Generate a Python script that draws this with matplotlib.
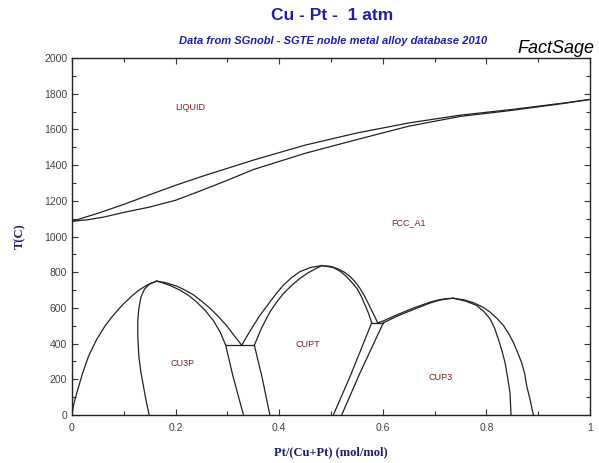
import matplotlib
matplotlib.use("Agg")
import matplotlib.pyplot as plt
from matplotlib.ticker import MultipleLocator

# liquidus / solidus
liq_x = [0, 0.05, 0.1, 0.15, 0.2, 0.25, 0.3, 0.35, 0.45, 0.55, 0.65, 0.75, 0.85, 0.95, 1.0]
liq_T = [1085, 1130, 1180, 1234, 1287, 1336, 1382, 1428, 1512, 1580, 1636, 1680, 1712, 1748, 1768]
sol_x = [0, 0.03, 0.06, 0.1, 0.15, 0.2, 0.25, 0.3, 0.35, 0.45, 0.55, 0.65, 0.75, 0.85, 0.95, 1.0]
sol_T = [1085, 1094, 1108, 1135, 1165, 1203, 1258, 1315, 1375, 1466, 1543, 1618, 1673, 1707, 1746, 1768]

# CU3P ordering dome
cu3p_outer_left_x = [0, 0.002, 0.006, 0.012, 0.02, 0.032, 0.047, 0.064, 0.08, 0.0965, 0.113, 0.129, 0.145, 0.1635]
cu3p_outer_left_T = [0, 40, 90, 150, 230, 330, 420, 500, 560, 614, 660, 699, 728, 750]
cu3p_inner_left_x = [0.1635, 0.15, 0.14, 0.133, 0.129, 0.127, 0.127, 0.129, 0.133, 0.138, 0.143, 0.149]
cu3p_inner_left_T = [750, 735, 705, 660, 595, 530, 440, 330, 240, 160, 80, 0]
cu3p_inner_right_x = [0.1635, 0.175, 0.19, 0.2085, 0.225, 0.2407, 0.257, 0.2728, 0.286, 0.2967]
cu3p_inner_right_T = [750, 740, 725, 699, 670, 633, 586, 529, 465, 391]
cu3p_outer_right_x = [0.1635, 0.18, 0.2023, 0.218, 0.2345, 0.25, 0.2668, 0.283, 0.2989, 0.313, 0.3276]
cu3p_outer_right_T = [750, 742, 722, 700, 673, 638, 597, 550, 499, 445, 391]

# three-phase line CU3P + FCC + CUPT
tp1_x = [0.2967, 0.352]
tp1_T = [391, 391]
cu3p_low_x = [0.2967, 0.3105, 0.331]
cu3p_low_T = [391, 220, 0]
cupt_low_left_x = [0.352, 0.367, 0.382]
cupt_low_left_T = [391, 210, 0]

# CUPT ordering dome
cupt_outer_left_x = [0.3276, 0.344, 0.362, 0.382, 0.395, 0.408, 0.424, 0.440, 0.46, 0.482]
cupt_outer_left_T = [391, 472, 555, 633, 683, 727, 770, 803, 826, 837]
cupt_inner_left_x = [0.352, 0.366, 0.382, 0.395, 0.408, 0.424, 0.440, 0.456, 0.472, 0.482]
cupt_inner_left_T = [391, 488, 577, 632, 680, 726, 765, 797, 822, 837]
cupt_outer_right_x = [0.482, 0.499, 0.514, 0.527, 0.537, 0.547, 0.556, 0.565, 0.572, 0.585, 0.590]
cupt_outer_right_T = [837, 833, 818, 798, 775, 745, 709, 665, 624, 548, 516]
cupt_inner_right_x = [0.482, 0.5045, 0.518, 0.530, 0.540, 0.550, 0.559, 0.566, 0.573, 0.5785]
cupt_inner_right_T = [837, 826, 805, 775, 744, 709, 662, 614, 565, 516]

# three-phase line CUPT + FCC + CUP3
tp2_x = [0.5785, 0.601]
tp2_T = [516, 516]
cupt_low_right_x = [0.5785, 0.537, 0.5045]
cupt_low_right_T = [516, 217, 0]
cup3_low_left_x = [0.601, 0.556, 0.5206]
cup3_low_left_T = [516, 236, 0]

# CUP3 ordering dome
cup3_outer_left_x = [0.590, 0.601, 0.627, 0.659, 0.691, 0.708, 0.723, 0.736]
cup3_outer_left_T = [516, 527, 561, 599, 632, 645, 652, 654]
cup3_inner_left_x = [0.601, 0.627, 0.659, 0.691, 0.708, 0.723, 0.736]
cup3_inner_left_T = [516, 553, 591, 627, 642, 650, 654]
cup3_outer_right_x = [0.736, 0.757, 0.775, 0.792, 0.807, 0.82, 0.833, 0.843, 0.852, 0.860, 0.868, 0.874, 0.878, 0.884, 0.8906]
cup3_outer_right_T = [654, 645, 629, 606, 577, 542, 501, 456, 407, 352, 293, 230, 160, 90, 0]
cup3_inner_right_x = [0.736, 0.760, 0.781, 0.795, 0.807, 0.816, 0.823, 0.830, 0.836, 0.841, 0.8456, 0.8475]
cup3_inner_right_T = [654, 638, 614, 580, 539, 485, 425, 360, 293, 210, 123, 0]

phase_names = ["LIQUID", "FCC_A1", "CU3P", "CUPT", "CUP3"]
phase_x = [0.228, 0.65, 0.214, 0.456, 0.712]
phase_T = [1720, 1077, 290, 397, 210]

fig = plt.figure(figsize=(5.99, 4.63), dpi=100)
ax = fig.add_axes([0.1202, 0.1037, 0.8648, 0.771])

curves = [
    (liq_x, liq_T), (sol_x, sol_T),
    (cu3p_outer_left_x, cu3p_outer_left_T), (cu3p_inner_left_x, cu3p_inner_left_T),
    (cu3p_inner_right_x, cu3p_inner_right_T), (cu3p_outer_right_x, cu3p_outer_right_T),
    (tp1_x, tp1_T), (cu3p_low_x, cu3p_low_T), (cupt_low_left_x, cupt_low_left_T),
    (cupt_outer_left_x, cupt_outer_left_T), (cupt_inner_left_x, cupt_inner_left_T),
    (cupt_outer_right_x, cupt_outer_right_T), (cupt_inner_right_x, cupt_inner_right_T),
    (tp2_x, tp2_T), (cupt_low_right_x, cupt_low_right_T), (cup3_low_left_x, cup3_low_left_T),
    (cup3_outer_left_x, cup3_outer_left_T), (cup3_inner_left_x, cup3_inner_left_T),
    (cup3_outer_right_x, cup3_outer_right_T), (cup3_inner_right_x, cup3_inner_right_T),
]
for cx, cT in curves:
    ax.plot(cx, cT, color="#222222", lw=0.9)

for name, px, pT in zip(phase_names, phase_x, phase_T):
    ax.text(px, pT, name, color="#7a2222", fontsize=6.5, ha="center", va="center",
            family="Liberation Sans")

ax.set_xlim(0, 1)
ax.set_ylim(0, 2000)
ax.xaxis.set_major_locator(MultipleLocator(0.2))
ax.xaxis.set_minor_locator(MultipleLocator(0.1))
ax.yaxis.set_major_locator(MultipleLocator(200))
ax.yaxis.set_minor_locator(MultipleLocator(100))
ax.xaxis.set_major_formatter(plt.FuncFormatter(lambda v, p: "%g" % round(v, 1)))
ax.tick_params(which="both", direction="in", top=True, right=True, colors="#333333",
               labelsize=7.5, labelcolor="#444444", width=0.8)
ax.tick_params(which="major", length=4)
ax.tick_params(which="minor", length=3)
ax.tick_params(axis="x", pad=6)
for lab in ax.get_xticklabels() + ax.get_yticklabels():
    lab.set_family("Liberation Sans")
for sp in ax.spines.values():
    sp.set_linewidth(1.0)
    sp.set_color("#222222")

ax.set_xlabel("Pt/(Cu+Pt) (mol/mol)", family="Liberation Serif", fontweight="bold",
              fontsize=9, color="#1c1c6e", labelpad=9)
ax.set_ylabel("T(C)", family="Liberation Serif", fontweight="bold",
              fontsize=9, color="#1c1c6e", labelpad=13)

fig.text(0.554, 0.966, "Cu - Pt -  1 atm", ha="center", va="center", fontsize=12.5,
         fontweight="bold", color="#1e1ea8", family="Liberation Sans")
fig.text(0.556, 0.912, "Data from SGnobl - SGTE noble metal alloy database 2010",
         ha="center", va="center", fontsize=8, fontweight="bold", style="italic",
         color="#1e1ea8", family="Liberation Sans")
fig.text(0.993, 0.895, "FactSage", ha="right", va="center", fontsize=13,
         style="italic", color="black", family="Liberation Sans")

fig.savefig("out.png", dpi=100)
